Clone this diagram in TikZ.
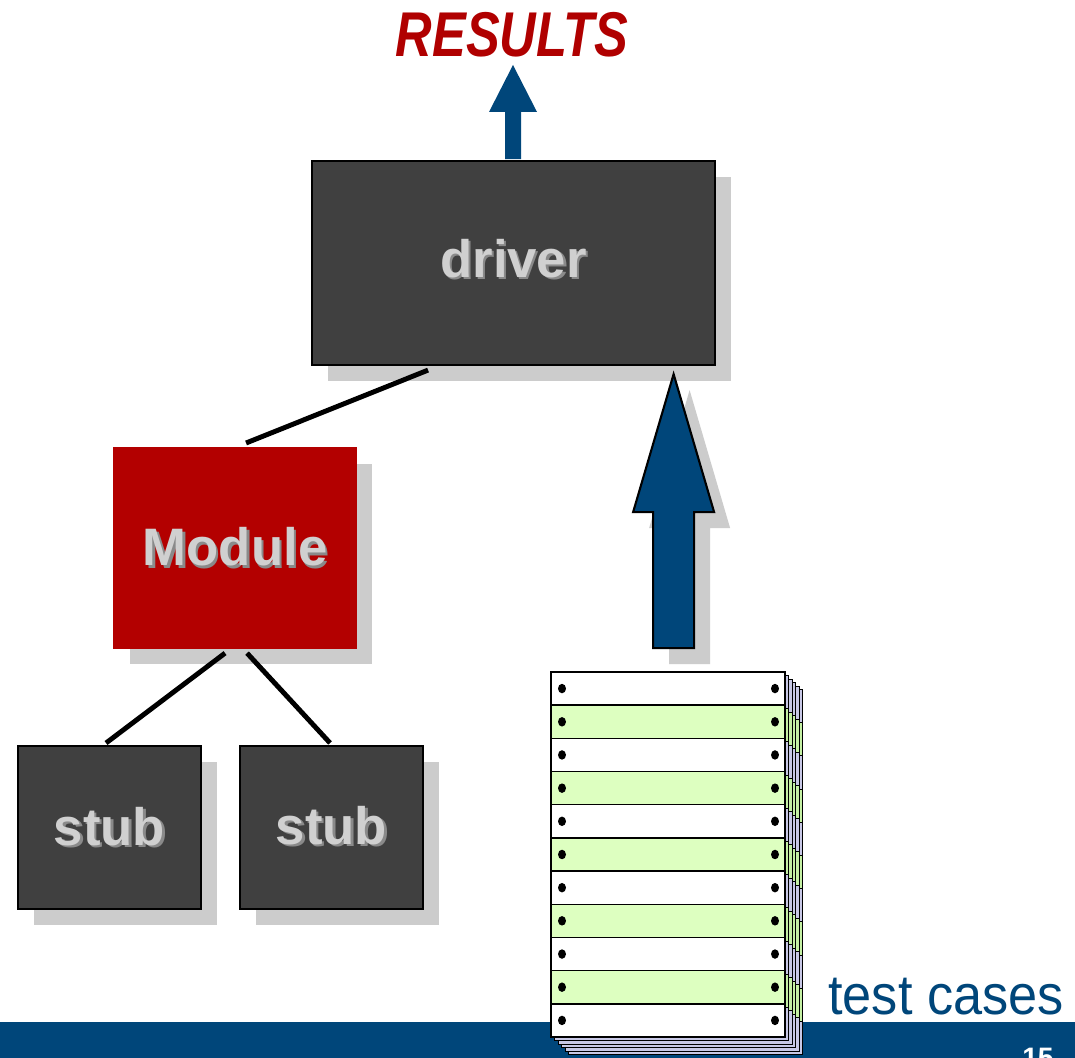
\documentclass[tikz,border=0pt]{standalone}
\usepackage{fontspec}
\setmainfont{Liberation Sans}
\usetikzlibrary{calc,shadows}

\definecolor{boxgray}{HTML}{404040}
\definecolor{shadowgray}{HTML}{CCCCCC}
\definecolor{deepblue}{HTML}{00467A}
\definecolor{modulered}{HTML}{B30000}
\definecolor{resultred}{HTML}{B00000}
\definecolor{sheetgreen}{HTML}{DDFFC0}
\definecolor{backgreen}{HTML}{C4F0A4}
\definecolor{sheetlav}{HTML}{C8C8E6}
\definecolor{embosslight}{HTML}{D0D0D0}
\definecolor{embossdark}{HTML}{8A8A8A}

% light label text with a darker offset copy behind it
\newcommand\embossed[1]{\makebox[0pt][l]{\hspace*{0.45mm}\raisebox{-0.45mm}{\textcolor{embossdark}{#1}}}\textcolor{embosslight}{#1}}

\begin{document}
\begin{tikzpicture}[x=0.2mm,y=-0.2mm,
  unitbox/.style={rectangle, inner sep=0pt, draw=black, line width=1.2pt,
    fill=boxgray, anchor=north west,
    font=\fontsize{30}{36}\selectfont\bfseries,
    drop shadow={shadow xshift=3.2mm, shadow yshift=-3.2mm, fill=shadowgray, opacity=1}},
  link/.style={line width=2.8pt},
  bigarrow/.style={fill=deepblue, draw=black, line width=1.2pt, line join=miter,
    drop shadow={shadow xshift=3.2mm, shadow yshift=-3.2mm, fill=shadowgray, opacity=1}},
  sheetrow/.style={draw=black, line width=0.5pt},
  hole/.style={fill=black}
]
\useasboundingbox (0,0) rectangle (1075,1058);
\clip (0,0) rectangle (1075,1058);
\fill[white] (0,0) rectangle (1075,1058);

% output label and arrow
\node[anchor=base, inner sep=0pt, text=resultred,
  font=\fontsize{36}{42}\selectfont\bfseries\itshape] (results) at (512,57)
  {\scalebox{0.8}[1]{RESULTS}};

\coordinate (driverTop) at (512.5,160);
\fill[deepblue] ($(driverTop)+(-7.5,-1)$) -- ++(0,-47) -- ++(-16,0) -- ++(24,-47)
  -- ++(24,47) -- ++(-16,0) -- ++(0,47) -- cycle;

% units under test
\node[unitbox, minimum width=80.6mm, minimum height=40.8mm] (driver) at (311,160)
  {\raisebox{2mm}{\embossed{driver}}};
\node[unitbox, fill=modulered, draw=modulered, minimum width=48.4mm, minimum height=40mm]
  (module) at (113,447) {\raisebox{-1mm}{\embossed{Module}}};
\node[unitbox, minimum width=36.6mm, minimum height=32.6mm] (stubA) at (17,745)
  {\embossed{stub}};
\node[unitbox, minimum width=36.6mm, minimum height=32.6mm] (stubB) at (239,745)
  {\raisebox{0.9mm}{\embossed{stub}}};

% call links
\draw[link] ($(driver.south)+(-85.5,4)$) -- ($(module.north)+(11,-4)$);
\draw[link] ($(module.south)+(-10,4)$) -- ($(stubA.north)+(-3.5,-2)$);
\draw[link] ($(module.south)+(12,4)$) -- ($(stubB.north)+(-1.5,-2)$);

% test input arrow
\coordinate (feedTip) at ($(driver.south east)+(-42.5,8)$);
\draw[bigarrow] (feedTip) -- ++(40.5,138) -- ++(-20,0) -- ++(0,136) -- ++(-41,0)
  -- ++(0,-136) -- ++(-20,0) -- cycle;

% footer bar
\fill[deepblue] (0,1022) rectangle (1075,1058);
\node[anchor=base west, inner sep=0pt, text=white,
  font=\fontsize{16}{19}\selectfont\bfseries] (pagenum) at (1022,1067) {15};

% stack of test case sheets
\def\rowh{33.18}
\foreach \k in {5,4,3,2,1}{
  \foreach \r in {0,...,10}{
    \pgfmathsetmacro\ya{672+3.5*\k+\r*\rowh}
    \pgfmathsetmacro\xa{551+3.5*\k}
    \ifodd\r \def\rc{backgreen}\else\def\rc{sheetlav}\fi
    \filldraw[sheetrow, fill=\rc] (\xa,\ya) rectangle ++(234,\rowh);
  }
}
\foreach \r in {0,...,10}{
  \pgfmathsetmacro\ya{672+\r*\rowh}
  \pgfmathsetmacro\ym{672+(\r+0.5)*\rowh}
  \ifodd\r \def\rc{sheetgreen}\else\def\rc{white}\fi
  \filldraw[draw=black, line width=0.8pt, fill=\rc] (551,\ya) rectangle ++(234,\rowh);
  \fill[hole] (562,\ym) ellipse [x radius=0.8mm, y radius=0.95mm];
  \fill[hole] (775,\ym) ellipse [x radius=0.8mm, y radius=0.95mm];
}
\node[anchor=north west, inner sep=0pt, minimum width=46.8mm, minimum height=73mm,
  draw=black, line width=0.8pt] (cases) at (551,672) {};

\node[anchor=base west, inner sep=0pt, text=deepblue,
  font=\fontsize{32}{38}\selectfont] (caption) at (828,1014)
  {\scalebox{0.93}[1]{test cases}};
\end{tikzpicture}
\end{document}
